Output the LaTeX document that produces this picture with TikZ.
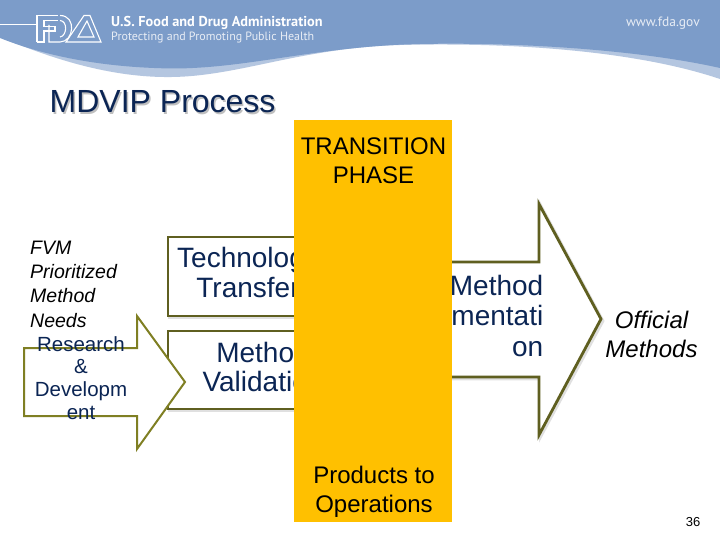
\documentclass[tikz,border=0pt]{standalone}
\usepackage{fontspec}
\setmainfont{Liberation Sans}
\newfontfamily\bannerfont{PT Sans}
\definecolor{bannerblue}{HTML}{7C9CC9}
\definecolor{shadeblue}{HTML}{B4C6E0}
\definecolor{olive}{HTML}{7F7F23}
\definecolor{darkolive}{HTML}{5F5F20}
\definecolor{navy}{HTML}{0B2554}
\definecolor{phase}{HTML}{FFC000}
\tikzset{
  arrowshape/.style={draw=olive,line width=2pt,fill=white,line join=miter},
  darkshape/.style={draw=darkolive,line width=2.8pt,fill=white,line join=miter},
  softshadow/.style={draw=black!12,fill=black!12,line width=2.8pt,line join=miter},
  bannertext/.style={text=#1,inner sep=0pt,anchor=west},
  logo/.style={draw=white,line width=1.1pt,fill=none,line join=miter}
}
\newcommand{\fs}[2]{\fontsize{#1}{#2}\selectfont}
\begin{document}
\begin{tikzpicture}[x=1pt,y=-1pt]
\useasboundingbox (0,0) rectangle (720,540);
\fill[white] (0,0) rectangle (720,540);
% banner
\fill[shadeblue] (0,37) .. controls (50,58) and (110,78) .. (172,77) .. controls (240,76) and (300,48) .. (400,45) .. controls (520,42) and (640,52) .. (720,79) -- (720,40) -- cycle;
\fill[bannerblue] (0,0) -- (720,0) -- (720,68) .. controls (640,50) and (520,42) .. (420,44) .. controls (320,46) and (250,68) .. (175,68.5) .. controls (110,68) and (50,58) .. (0,38) -- cycle;
% logo
\draw[white,line width=0.9pt] (0,24) -- (37,24);
\draw[logo] (37,42) -- (37,15.5) -- (58,15.5) (37,42) -- (44,42) -- (44,31) -- (55,31) -- (55,26.5) -- (44,26.5) -- (44,20.5) -- (58,20.5);
\draw[logo] (49,25) -- (49,42) -- (60,42) .. controls (74,42) and (77,15.5) .. (60,15.5);
\draw[logo] (60,37) .. controls (67,36) and (68,21) .. (60,20.5);
\draw[logo] (66,42) -- (84,15.5) -- (90,15.5) -- (101,42) -- cycle;
\draw[logo] (78,37) -- (94,37) -- (87,21) -- cycle;
\node[bannertext=white,font=\bannerfont\bfseries\fs{14.3}{16}] (agency) at (111,23) {U.S. Food and Drug Administration};
\node[bannertext=white!82!bannerblue,font=\bannerfont\fs{12}{14}] (tagline) at (111,38) {Protecting and Promoting Public Health};
\node[bannertext=white!82!bannerblue,font=\bannerfont\fs{13.5}{15},anchor=east] (site) at (700,23) {www.fda.gov};
% title
\node[text=black!25,font=\fs{32}{34},inner sep=0pt,anchor=west] (titleshadow) at (51,103.5) {MDVIP Process};
\node[text=navy,font=\fs{32}{34},inner sep=0pt,anchor=west] (title) at (49.5,102) {MDVIP Process};
% large arrow
\path[softshadow] (331,264) -- (540.5,264) -- (540.5,205) -- (603,321) -- (540.5,437) -- (540.5,379) -- (331,379) -- cycle;
\draw[darkshape] (330,262) -- (539,262) -- (539,204) -- (601,319) -- (539,435) -- (539,377) -- (330,377) -- cycle;
% boxes
\path[softshadow] (169,239) rectangle (321,318);
\draw[darkshape] (168,237) rectangle (320,316);
\path[softshadow] (169,333) rectangle (321,411);
\draw[darkshape] (168,331) rectangle (320,409);
\node[text=navy,font=\fs{28}{30},inner sep=0pt,align=center] (tech) at (248,272) {Technology\\Transfer};
\node[text=navy,font=\fs{28}{29},inner sep=0pt,align=center] (valid) at (263,366.5) {Method\\Validation};
% left arrow
\draw[arrowshape] (24,348) -- (137,348) -- (137,316) -- (185,382) -- (137,449) -- (137,416) -- (24,416) -- cycle;
\node[text=navy,font=\fs{20.5}{22.8},inner sep=0pt,align=center] (rd) at (81,378) {Research\\\&\\Developm\\ent};
% needs
\node[font=\itshape\fs{19.5}{24.3},inner sep=0pt,align=left,anchor=west] (needs) at (30,284) {FVM\\Prioritized\\Method\\Needs};
% implementation
\node[text=navy,font=\fs{28}{30.5},inner sep=0pt,align=right,anchor=east] (impl) at (543.5,315.5) {Method\\Implementati\\on};
% phase
\node[fill=phase,minimum width=158pt,minimum height=402pt,inner sep=0pt] (band) at (373,321) {};
\node[font=\fs{24}{29},inner sep=0pt,align=center] (phase) at (373.5,160.5) {TRANSITION\\PHASE};
\node[font=\fs{24}{29},inner sep=0pt,align=center] (products) at (374,492) {Products to\\Operations};
% official
\node[font=\itshape\fs{24}{29},inner sep=0pt,align=center] (official) at (651.5,334.5) {Official\\Methods};
\node[font=\fs{13}{15},inner sep=0pt] (pagenum) at (693,522) {36};
\end{tikzpicture}
\end{document}
